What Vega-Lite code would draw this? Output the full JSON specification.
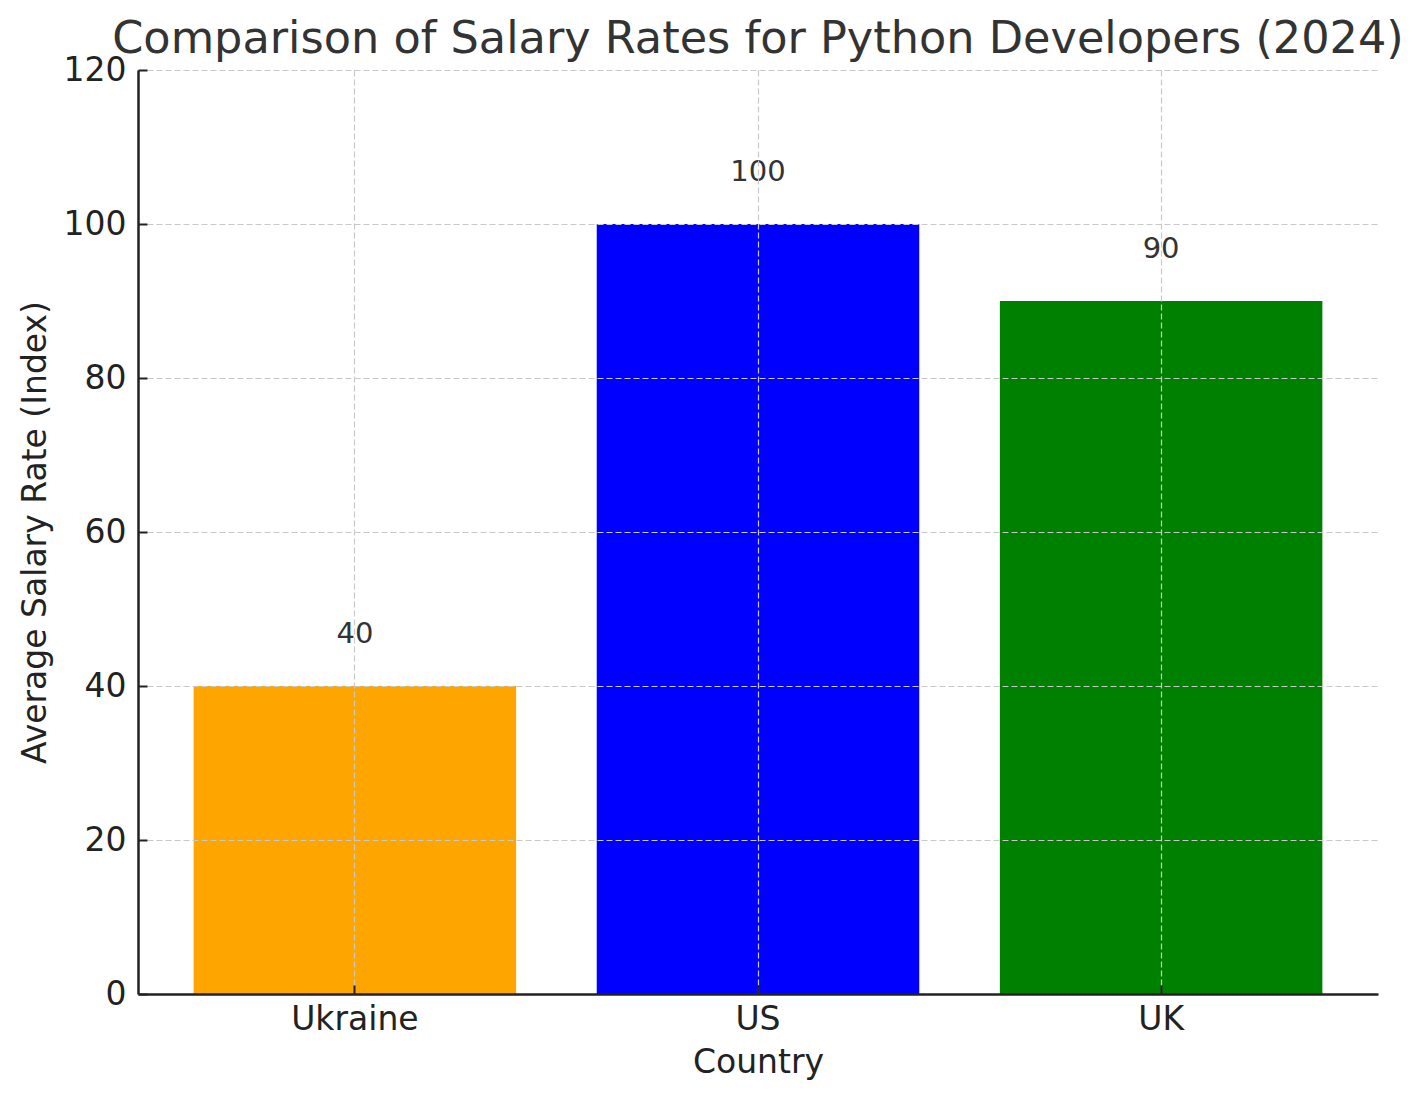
{
  "$schema": "https://vega.github.io/schema/vega-lite/v6.json",
  "width": 1240,
  "height": 924,
  "autosize": {"type": "none"},
  "padding": {"left": 138, "top": 70, "right": 43, "bottom": 107},
  "background": "white",
  "config": {
    "view": {"stroke": null},
    "font": "DejaVu Sans"
  },
  "title": {
    "text": "Comparison of Salary Rates for Python Developers (2024)",
    "font": "DejaVu Sans",
    "fontSize": 44.6,
    "fontWeight": "normal",
    "color": "#333333",
    "anchor": "middle",
    "frame": "group",
    "baseline": "alphabetic",
    "offset": -44
  },
  "data": {
    "values": [
      {"country": "Ukraine", "rate": 40},
      {"country": "US", "rate": 100},
      {"country": "UK", "rate": 90}
    ]
  },
  "encoding": {
    "x": {
      "field": "country",
      "type": "nominal",
      "sort": ["Ukraine", "US", "UK"],
      "scale": {"paddingInner": 0.2, "paddingOuter": 0.138},
      "axis": {
        "title": "Country",
        "titleFont": "DejaVu Sans",
        "titleFontSize": 33,
        "titleFontWeight": "normal",
        "titleColor": "#222222",
        "titlePadding": 10,
        "labelFont": "DejaVu Sans",
        "labelFontSize": 33,
        "labelColor": "#222222",
        "labelAngle": 0,
        "labelPadding": 18,
        "domainColor": "#222222",
        "domainWidth": 2.5,
        "tickColor": "#222222",
        "tickWidth": 2,
        "tickSize": -9,
        "grid": true,
        "gridColor": "#c8c8c8",
        "gridWidth": 1.2,
        "gridDash": [6, 3],
        "zindex": 1
      }
    },
    "y": {
      "field": "rate",
      "type": "quantitative",
      "scale": {"domain": [0, 120], "nice": false},
      "axis": {
        "title": "Average Salary Rate (Index)",
        "titleFont": "DejaVu Sans",
        "titleFontSize": 33,
        "titleFontWeight": "normal",
        "titleColor": "#222222",
        "titlePadding": 11,
        "labelFont": "DejaVu Sans",
        "labelFontSize": 33,
        "labelColor": "#222222",
        "labelPadding": 21,
        "values": [0, 20, 40, 60, 80, 100, 120],
        "domainColor": "#222222",
        "domainWidth": 2.5,
        "tickColor": "#222222",
        "tickWidth": 2,
        "tickSize": -9,
        "grid": true,
        "gridColor": "#c8c8c8",
        "gridWidth": 1.2,
        "gridDash": [6, 3],
        "zindex": 1
      }
    }
  },
  "layer": [
    {
      "mark": {"type": "bar"},
      "encoding": {
        "color": {
          "field": "country",
          "type": "nominal",
          "scale": {"domain": ["Ukraine", "US", "UK"], "range": ["#FFA500", "#0000FF", "#008000"]},
          "legend": null
        }
      }
    },
    {
      "mark": {"type": "text", "font": "DejaVu Sans", "fontSize": 29, "color": "#333333", "baseline": "alphabetic", "dy": -43},
      "encoding": {
        "text": {"field": "rate", "type": "quantitative"}
      }
    }
  ]
}
